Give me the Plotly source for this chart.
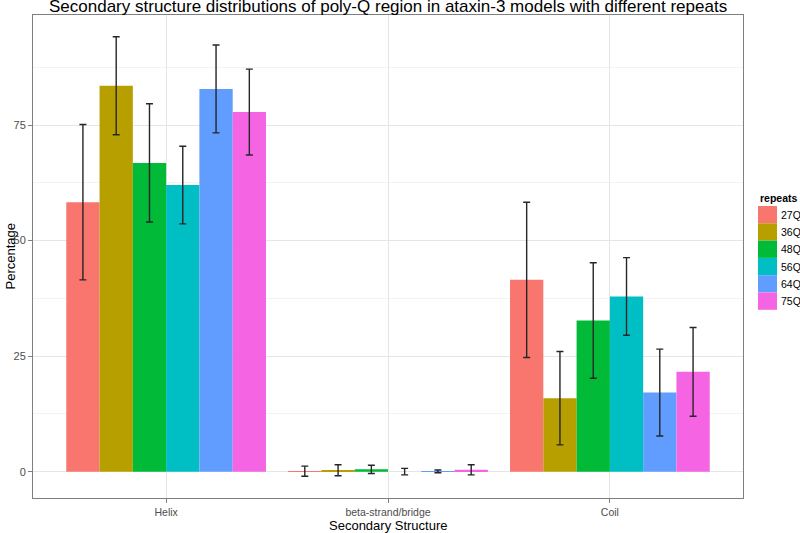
import plotly.graph_objects as go

categories = ["Helix", "beta-strand/bridge", "Coil"]
repeats = ["27Q", "36Q", "48Q", "56Q", "64Q", "75Q"]
colors = ["#F8766D", "#B79F00", "#00BA38", "#00BFC4", "#619CFF", "#F564E3"]

# mean percentage per repeat, for [Helix, beta-strand/bridge, Coil]
values = {
    "27Q": [58.3, 0.1, 41.5],
    "36Q": [83.5, 0.3, 15.9],
    "48Q": [66.8, 0.5, 32.7],
    "56Q": [62.0, 0.0, 37.9],
    "64Q": [82.8, 0.05, 17.1],
    "75Q": [77.8, 0.4, 21.6],
}
# standard deviation (error bar half-length)
errors = {
    "27Q": [16.8, 1.1, 16.8],
    "36Q": [10.6, 1.2, 10.1],
    "48Q": [12.8, 0.9, 12.5],
    "56Q": [8.4, 0.7, 8.4],
    "64Q": [9.5, 0.3, 9.4],
    "75Q": [9.3, 1.1, 9.6],
}

FONT = "Liberation Sans, Arial, sans-serif"

fig = go.Figure()
for r, c in zip(repeats, colors):
    fig.add_trace(go.Bar(
        x=categories, y=values[r], name=r,
        marker=dict(color=c, line=dict(width=0)),
        error_y=dict(type="data", array=errors[r], visible=True,
                     color="#262626", thickness=1.4, width=3.5),
        showlegend=False, hoverinfo="skip",
    ))

L, R, T, B = 33, 743, 15, 498
W, H = 800, 533
pw, ph = R - L, B - T

def px(x):
    return (x - L) / pw

def py(y):
    return (B - y) / ph

# custom legend (ggplot-style key boxes)
key_x0, key_x1 = 758, 777
key_top, key_h = 206, 17.3
annotations = [
    dict(text="<b>repeats</b>", x=px(758), y=py(198), xref="paper", yref="paper",
         xanchor="left", yanchor="middle", showarrow=False,
         font=dict(family=FONT, size=10.5, color="#000000")),
    dict(text="Secondary structure distributions of poly-Q region in ataxin-3 models with different repeats",
         x=0.5, y=py(7), xref="paper", yref="paper", xanchor="center", yanchor="middle",
         showarrow=False, font=dict(family=FONT, size=17, color="#000000")),
    dict(text="Secondary Structure", x=0.5, y=py(525), xref="paper", yref="paper",
         xanchor="center", yanchor="middle", showarrow=False,
         font=dict(family=FONT, size=13, color="#000000")),
    dict(text="Percentage", x=px(10), y=0.5, xref="paper", yref="paper",
         xanchor="center", yanchor="middle", textangle=-90, showarrow=False,
         font=dict(family=FONT, size=13, color="#000000")),
]
shapes = []
for i, (r, c) in enumerate(zip(repeats, colors)):
    y0 = key_top + i * key_h
    shapes.append(dict(type="rect", xref="paper", yref="paper",
                       x0=px(key_x0), x1=px(key_x1), y0=py(y0 + key_h), y1=py(y0),
                       fillcolor=c, line=dict(width=0)))
    annotations.append(dict(text=r, x=px(779), y=py(y0 + key_h / 2), xref="paper", yref="paper",
                            xanchor="left", yanchor="middle", showarrow=False,
                            font=dict(family=FONT, size=10.5, color="#000000")))

fig.update_layout(
    width=W, height=H,
    margin=dict(l=L, r=W - R, t=T, b=H - B, pad=0, autoexpand=False),
    paper_bgcolor="white", plot_bgcolor="white",
    barmode="group", bargap=0.1, bargroupgap=0,
    font=dict(family=FONT, size=11, color="#4d4d4d"),
    xaxis=dict(type="category", range=[-0.6, 2.6], showgrid=True, gridcolor="#E5E5E5",
               gridwidth=1, ticks="outside", ticklen=4, tickcolor="#7f7f7f", tickwidth=1,
               showline=True, linecolor="#7f7f7f", linewidth=1, mirror=True,
               zeroline=False, automargin=False,
               tickfont=dict(family=FONT, size=10.5, color="#4d4d4d")),
    yaxis=dict(range=[-5.7, 98.8], tickvals=[0, 25, 50, 75], showgrid=True,
               gridcolor="#E5E5E5", gridwidth=1,
               minor=dict(tickvals=[12.5, 37.5, 62.5, 87.5], showgrid=True,
                          gridcolor="#F3F3F3", gridwidth=1, ticks=""),
               ticks="outside", ticklen=4, tickcolor="#7f7f7f", tickwidth=1,
               showline=True, linecolor="#7f7f7f", linewidth=1, mirror=True,
               zeroline=False, automargin=False,
               tickfont=dict(family=FONT, size=11, color="#4d4d4d")),
    annotations=annotations, shapes=shapes,
)

fig.write_html("out.html", config={"displayModeBar": False},
               post_script="document.body.style.margin='0';document.body.style.overflow='hidden';")
